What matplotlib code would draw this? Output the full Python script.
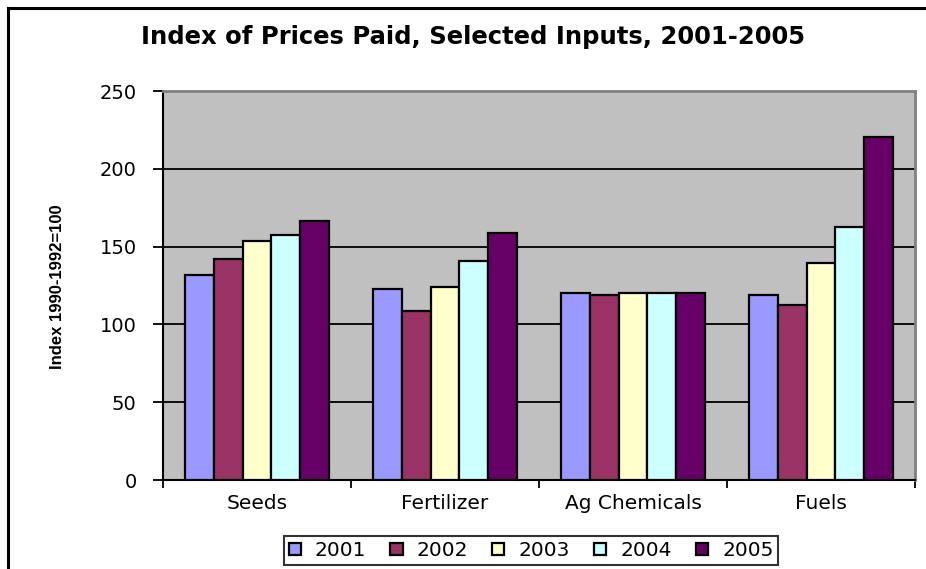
import numpy as np
import matplotlib
matplotlib.use("Agg")
import matplotlib.pyplot as plt
from matplotlib.lines import Line2D

# ── Data ───────────────────────────────────────────────────────────────
categories = ["Seeds", "Fertilizer", "Ag Chemicals", "Fuels"]
years = ["2001", "2002", "2003", "2004", "2005"]
idx_2001 = [131.7, 122.7, 120.4, 119.0]
idx_2002 = [142.2, 108.8, 119.1, 112.5]
idx_2003 = [153.8, 124.0, 120.4, 139.7]
idx_2004 = [157.5, 140.7, 120.4, 162.8]
idx_2005 = [166.7, 158.7, 120.4, 220.4]
series = [idx_2001, idx_2002, idx_2003, idx_2004, idx_2005]
colors = ["#9999FF", "#993366", "#FFFFCC", "#CCFFFF", "#660066"]

TITLE = "Index of Prices Paid, Selected Inputs, 2001-2005"
YLABEL = "Index 1990-1992=100"

plt.rcParams["font.family"] = ["DejaVu Sans"]

W, H = 926, 569
fig = plt.figure(figsize=(W / 100, H / 100), dpi=100)

# outer chart border: only left and top edges fall inside the picture
fig.lines.append(Line2D([7.5 / W, 7.5 / W], [0, 1 - 7.5 / H], transform=fig.transFigure,
                        color="black", linewidth=2.2))
fig.lines.append(Line2D([7.5 / W, 1], [1 - 7.5 / H, 1 - 7.5 / H], transform=fig.transFigure,
                        color="black", linewidth=2.2))

ax = fig.add_axes([163 / W, (H - 480) / H, 752 / W, 389 / H])
ax.set_facecolor("#C0C0C0")

n = len(series)
bw = 1 / (n + 1.5)
x = np.arange(len(categories))
for i, (vals, c, yr) in enumerate(zip(series, colors, years)):
    ax.bar(x + (i - (n - 1) / 2) * bw, vals, bw, color=c, edgecolor="black",
           linewidth=1.6, label=yr, zorder=3)

ax.set_xlim(-0.5, len(categories) - 0.5)
ax.set_ylim(0, 250)
ax.set_yticks(np.arange(0, 251, 50))
ax.yaxis.grid(True, color="black", linewidth=1.3, zorder=1)
ax.set_axisbelow(True)

ax.set_xticks(x)
ax.set_xticklabels(categories, fontsize=14.5)
ax.set_xticks(np.arange(len(categories) + 1) - 0.5, minor=True)
ax.tick_params(axis="x", which="major", length=0, pad=10)
ax.tick_params(axis="x", which="minor", length=6, width=1.3, direction="out")
ax.tick_params(axis="y", length=7, width=1.3, direction="out", pad=12, labelsize=14)

for s in ["left", "bottom"]:
    ax.spines[s].set_color("black")
    ax.spines[s].set_linewidth(1.5)
for s in ["top", "right"]:
    ax.spines[s].set_color("#808080")
    ax.spines[s].set_linewidth(2)

fig.text(473 / W, 1 - 37 / H, TITLE, ha="center", va="center", fontsize=17.5, fontweight="bold")
fig.text(58 / W, 1 - 287 / H, YLABEL, ha="center", va="center", rotation=90,
         fontsize=12, fontweight="bold",
         family=["Liberation Sans Narrow", "Liberation Sans", "DejaVu Sans"])

leg = fig.legend(loc="center", bbox_to_anchor=(531 / W, 1 - 550.5 / H), ncol=5, fontsize=14.5,
                 frameon=True, fancybox=False, edgecolor="black", handlelength=0.6,
                 handleheight=0.6, handletextpad=0.7, columnspacing=1.2, borderpad=0.25,
                 borderaxespad=0)
leg.get_frame().set_linewidth(1.5)

fig.savefig("out.png", dpi=100)
